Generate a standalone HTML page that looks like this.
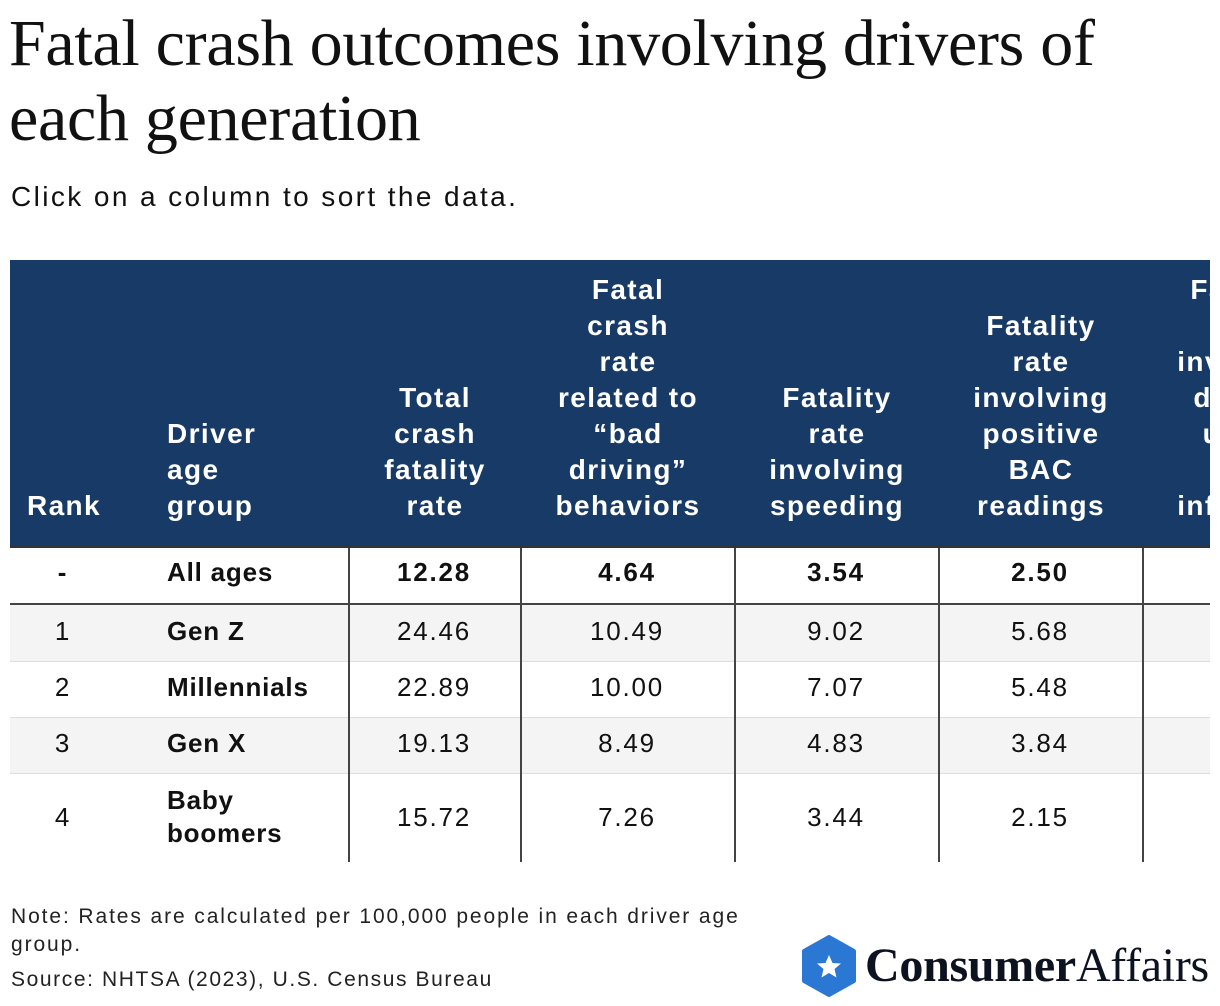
<!DOCTYPE html>
<html><head><meta charset="utf-8"><style>
body{margin:0;width:1220px;height:1006px;background:#fff;position:relative;overflow:hidden;font-family:"Liberation Sans",sans-serif;color:#111}
.title{position:absolute;left:9px;top:6px;font-family:"Liberation Serif",serif;font-size:66px;line-height:75px;letter-spacing:-0.3px;color:#111;margin:0;font-weight:normal;white-space:nowrap}
.sub{position:absolute;left:11px;top:181px;font-size:28px;letter-spacing:2.4px;color:#111}
.wrap{position:absolute;left:10px;top:260px;width:1200px;height:602px;overflow:hidden}
.hdr{position:absolute;left:0;top:0;width:1300px;height:286px;background:#173a66;border-bottom:2px solid #333}
.h{position:absolute;bottom:22px;color:#fff;font-weight:bold;font-size:28px;line-height:36px;text-align:center;letter-spacing:1.4px;white-space:nowrap}
.row{position:absolute;left:0;width:1300px}
.c{position:absolute;font-size:26px;text-align:center;transform:translateX(-50%);white-space:nowrap;letter-spacing:1.8px}
.vl{position:absolute;top:288px;width:2px;height:314px;background:#444}
.note{position:absolute;left:11px;font-size:21px;color:#222;letter-spacing:1.9px}
</style></head><body>
<h1 class="title">Fatal crash outcomes involving drivers of<br>each generation</h1>
<div class="sub">Click on a column to sort the data.</div>
<div class="wrap">
<div class="hdr">
 <div class="h" style="left:0;width:108px">Rank</div>
 <div class="h" style="left:157px;text-align:left">Driver<br>age<br>group</div>
 <div class="h" style="left:339px;width:172px">Total<br>crash<br>fatality<br>rate</div>
 <div class="h" style="left:511px;width:214px">Fatal<br>crash<br>rate<br>related to<br>“bad<br>driving”<br>behaviors</div>
 <div class="h" style="left:725px;width:204px">Fatality<br>rate<br>involving<br>speeding</div>
 <div class="h" style="left:929px;width:204px">Fatality<br>rate<br>involving<br>positive<br>BAC<br>readings</div>
 <div class="h" style="left:1133px;width:204px">Fatality<br>rate<br>involving<br>drivers<br>under<br>the<br>influence</div>
</div>
<div class="row" style="top:288px;height:55px;border-bottom:2px solid #444"></div>
<div class="row" style="top:345px;height:56px;background:#f4f4f4;border-bottom:1px solid #ddd"></div>
<div class="row" style="top:402px;height:55px;border-bottom:1px solid #ddd"></div>
<div class="row" style="top:458px;height:55px;background:#f4f4f4;border-bottom:1px solid #ddd"></div>
<div class="row" style="top:514px;height:88px"></div>
<div class="vl" style="left:338px"></div><div class="vl" style="left:510px"></div><div class="vl" style="left:724px"></div><div class="vl" style="left:928px"></div><div class="vl" style="left:1132px"></div>
<div id="cells"></div>
</div>
<div class="note" style="top:903px;line-height:28px">Note: Rates are calculated per 100,000 people in each driver age<br>group.</div>
<div class="note" style="top:968px;letter-spacing:1.6px">Source: NHTSA (2023), U.S. Census Bureau</div>
<div style="position:absolute;left:801px;top:935px;width:420px;height:62px">
<svg width="56" height="62" viewBox="0 0 56 62" style="position:absolute;left:0;top:0"><polygon points="28,2 53,16 53,46 28,60 3,46 3,16" fill="#2a77d4" stroke="#2a77d4" stroke-width="4" stroke-linejoin="round"/><polygon points="28,20 31.5,28 40,28.5 33.5,34 35.5,42.5 28,38 20.5,42.5 22.5,34 16,28.5 24.5,28" fill="#fff"/></svg>
<div style="position:absolute;left:64px;top:3px;font-family:'Liberation Serif',serif;font-size:48px;line-height:56px;color:#0c1220;white-space:nowrap;letter-spacing:-0.3px"><b style="font-weight:900">Consumer</b>Affairs</div>
</div>
<script>
const ranks=["-","1","2","3","4"];
const groups=["All ages","Gen Z","Millennials","Gen X","Baby<br>boomers"];
const total=["12.28","24.46","22.89","19.13","15.72"];
const bad=["4.64","10.49","10.00","8.49","7.26"];
const speed=["3.54","9.02","7.07","4.83","3.44"];
const bac=["2.50","5.68","5.48","3.84","2.15"];
const rowMid=[312,371,427,483,557];
const cols=[[53,ranks],[424,total],[617,bad],[826,speed],[1030,bac]];
const box=document.getElementById('cells');
for(let r=0;r<ranks.length;r++){
 for(const [x,arr] of cols){
  const d=document.createElement('div');d.className='c';
  
  
  d.style.left=x+'px';d.style.top=(rowMid[r]-15)+'px';
  if(r===0)d.style.fontWeight='bold';
  d.textContent=arr[r];box.appendChild(d);
 }
 const g=document.createElement('div');
 
 
 g.style.cssText='position:absolute;left:157px;font-weight:bold;font-size:26px;letter-spacing:0.8px;line-height:33px;top:'+(rowMid[r]-(r===4?33:16))+'px';
 g.innerHTML=groups[r];box.appendChild(g);
}
</script>
</body></html>
